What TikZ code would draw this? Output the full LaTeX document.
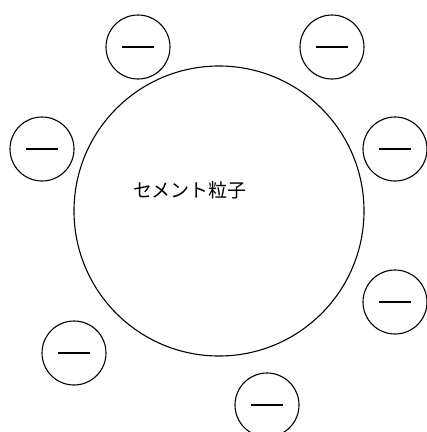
\documentclass[tikz,border=0pt]{standalone}
\usepackage{fontspec}
\newfontfamily\cjk{Noto Sans CJK JP}
\begin{document}
\begin{tikzpicture}[x=1pt,y=-1pt,
  particle/.style={circle,draw,line width=1.1pt,minimum size=290pt,inner sep=0pt},
  ion/.style={circle,draw,line width=1.1pt,minimum size=64pt,inner sep=0pt},
  minusbar/.style={line width=1.1pt}]
\useasboundingbox (0,0) rectangle (427,432);
\clip (0,0) rectangle (427,432);
\node[particle] (p) at (219,211) {};
\node[font=\cjk\fontsize{19pt}{22pt}\selectfont] (t) at (190,190) {セメント粒子};
\foreach \n/\x/\y in {a/138/47, b/332/47, c/42/149, d/395/149, e/395/302, f/74/353, g/267/405} {
  \node[ion] (\n) at (\x,\y) {};
  \draw[minusbar] ([xshift=-16pt]\n.center) -- ([xshift=16pt]\n.center);
}
\end{tikzpicture}
\end{document}
